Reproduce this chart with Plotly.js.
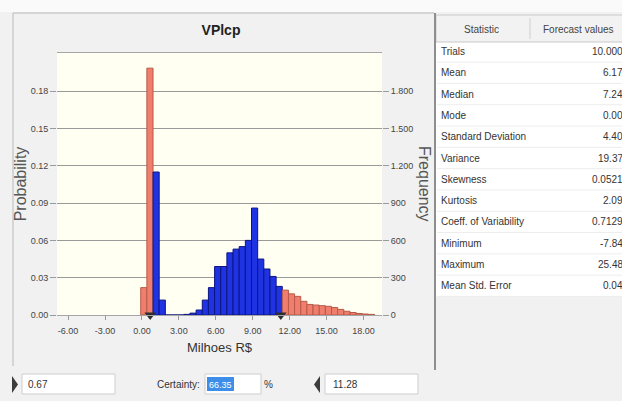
<!DOCTYPE html>
<html><head><meta charset="utf-8">
<script src="https://cdn.plot.ly/plotly-3.0.1.min.js"></script>
<style>html,body{margin:0;padding:0;background:#f1f1f1;}#chart{width:622px;height:401px;}</style>
</head><body><div id="chart"></div>
<script>
// ---- data ----
const binCenters = [0.15,0.65,1.15,1.65,2.15,2.65,3.15,3.65,4.15,4.65,5.15,5.65,6.15,6.65,7.15,7.65,8.15,8.65,9.15,9.65,10.15,10.65,11.15,11.65,12.15,12.65,13.15,13.65,14.15,14.65,15.15,15.65,16.15,16.65,17.15,17.65,18.15,18.65];
const binFreq    = [220,1985,1150,120,0,0,0,5,15,40,120,220,390,390,500,530,550,600,860,450,370,310,230,200,170,150,110,85,80,75,70,60,45,30,20,12,8,5];
const trials = 10000;
const certLow = 0.67, certHigh = 11.28;
const certaintyText = "66.35";
const xTickVals = [-6,-3,0,3,6,9,12,15,18];
const xTickText = ["-6.00","-3.00","0.00","3.00","6.00","9.00","12.00","15.00","18.00"];
const probTicks = [0,0.03,0.06,0.09,0.12,0.15,0.18];
const probText  = ["0.00","0.03","0.06","0.09","0.12","0.15","0.18"];
const freqTicks = [0,300,600,900,1200,1500,1800];
const freqText  = ["0","300","600","900","1.200","1.500","1.800"];
const statLabels = ["Trials","Mean","Median","Mode","Standard Deviation","Variance","Skewness","Kurtosis","Coeff. of Variability","Minimum","Maximum","Mean Std. Error"];
const statValues = ["10.000","6.17","7.24","0.00","4.40","19.37","0.0521","2.09","0.7129","-7.84","25.48","0.04"];

// ---- helpers ----
const W = 622, H = 401;
const px = x => x / W, py = y => 1 - y / H;
const NARROW = "'Liberation Sans Narrow','Arial Narrow','Liberation Sans',Arial,sans-serif";
const SANS = "'Liberation Sans',Arial,sans-serif";
const binWidth = 0.5;
const maxFreq = 2107;

const binProb = binFreq.map(f => f / trials);
const colors = binCenters.map(c => (c < certLow || c > certHigh) ? '#ef7f6c' : '#1f33e2');
const lineColors = binCenters.map(c => (c < certLow || c > certHigh) ? '#b8594a' : '#0c1680');

const traces = [
  {type:'bar', x:binCenters, y:binProb, yaxis:'y', width:binCenters.map(()=>binWidth),
   marker:{color:colors, line:{color:lineColors, width:1}}, hoverinfo:'skip'},
  {type:'scatter', mode:'markers', x:[certLow,certHigh], y:[0,0], yaxis:'y2', cliponaxis:false,
   marker:{symbol:'triangle-down', size:10, color:'#2e2e2e'}, hoverinfo:'skip'}
];

const shapes = [];
const annotations = [];
shapes.push({type:'rect', xref:'paper', yref:'paper', x0:0, x1:1, y0:py(12), y1:1, fillcolor:'#fafafa', line:{width:0}, layer:'below'});
shapes.push({type:'line', xref:'paper', yref:'paper', x0:px(13), x1:px(434), y0:py(13), y1:py(13), line:{color:'#b9b9b9', width:1}});
shapes.push({type:'line', xref:'paper', yref:'paper', x0:px(13), x1:px(13), y0:py(13), y1:py(366), line:{color:'#b9b9b9', width:1}});
shapes.push({type:'rect', xref:'paper', yref:'paper', x0:px(436), x1:1, y0:py(297), y1:py(15), fillcolor:'#ffffff', line:{width:0}, layer:'below'});
shapes.push({type:'rect', xref:'paper', yref:'paper', x0:px(436), x1:px(623), y0:py(42), y1:py(15), fillcolor:'#f2f2f2', line:{color:'#c9c9c9', width:1}});
shapes.push({type:'line', xref:'paper', yref:'paper', x0:px(530), x1:px(530), y0:py(39), y1:py(18), line:{color:'#cfcfcf', width:1}});
shapes.push({type:'line', xref:'paper', yref:'paper', x0:px(435), x1:px(435), y0:py(13), y1:py(370), line:{color:'#8e8e8e', width:2}});
const rowH = 21.3, row0 = 51.5;
for (let k = 1; k < statLabels.length + 1; k++) {
  const yy = row0 - rowH/2 + rowH*k;
  shapes.push({type:'line', xref:'paper', yref:'paper', x0:px(437), x1:1, y0:py(yy), y1:py(yy), line:{color:'#ededed', width:1}});
}
annotations.push({xref:'paper', yref:'paper', x:px(481), y:py(29), text:'Statistic', showarrow:false, xanchor:'center', yanchor:'middle', font:{family:NARROW, size:10, color:'#444'}});
annotations.push({xref:'paper', yref:'paper', x:px(578), y:py(29), text:'Forecast values', showarrow:false, xanchor:'center', yanchor:'middle', font:{family:NARROW, size:10, color:'#444'}});
statLabels.forEach((lab, k) => {
  annotations.push({xref:'paper', yref:'paper', x:px(439), y:py(row0 + rowH*k), text:lab, showarrow:false, xanchor:'left', yanchor:'middle', font:{family:NARROW, size:10, color:'#333'}});
  annotations.push({xref:'paper', yref:'paper', x:px(625), y:py(row0 + rowH*k), text:statValues[k], showarrow:false, xanchor:'right', yanchor:'middle', font:{family:NARROW, size:10, color:'#333'}});
});
annotations.push({xref:'paper', yref:'paper', x:px(425), y:py(184), text:'Frequency', textangle:90, showarrow:false, xanchor:'center', yanchor:'middle', font:{family:SANS, size:16, color:'#555'}});
// bottom controls
shapes.push({type:'path', xref:'paper', yref:'paper', path:`M ${px(12)},${py(376)} L ${px(18)},${py(384.5)} L ${px(12)},${py(393)} Z`, fillcolor:'#3c3c3c', line:{width:0}});
shapes.push({type:'rect', xref:'paper', yref:'paper', x0:px(22), x1:px(115), y0:py(394), y1:py(374), fillcolor:'#ffffff', line:{color:'#cdcdcd', width:1}});
annotations.push({xref:'paper', yref:'paper', x:px(26), y:py(384.5), text:String(certLow), showarrow:false, xanchor:'left', yanchor:'middle', font:{family:NARROW, size:10, color:'#333'}});
annotations.push({xref:'paper', yref:'paper', x:px(202), y:py(384.5), text:'Certainty:', showarrow:false, xanchor:'right', yanchor:'middle', font:{family:NARROW, size:10, color:'#333'}});
shapes.push({type:'rect', xref:'paper', yref:'paper', x0:px(205), x1:px(261), y0:py(394), y1:py(374), fillcolor:'#ffffff', line:{color:'#cdcdcd', width:1}});
shapes.push({type:'rect', xref:'paper', yref:'paper', x0:px(207), x1:px(234), y0:py(391), y1:py(377), fillcolor:'#3d8ee8', line:{width:0}});
annotations.push({xref:'paper', yref:'paper', x:px(220.5), y:py(384.5), text:certaintyText, showarrow:false, xanchor:'center', yanchor:'middle', font:{family:NARROW, size:9, color:'#ffffff'}});
annotations.push({xref:'paper', yref:'paper', x:px(268), y:py(384.5), text:'%', showarrow:false, xanchor:'center', yanchor:'middle', font:{family:NARROW, size:10, color:'#333'}});
shapes.push({type:'path', xref:'paper', yref:'paper', path:`M ${px(320)},${py(376)} L ${px(314)},${py(384.5)} L ${px(320)},${py(393)} Z`, fillcolor:'#3c3c3c', line:{width:0}});
shapes.push({type:'rect', xref:'paper', yref:'paper', x0:px(325), x1:px(418), y0:py(394), y1:py(374), fillcolor:'#ffffff', line:{color:'#cdcdcd', width:1}});
annotations.push({xref:'paper', yref:'paper', x:px(331), y:py(384.5), text:String(certHigh), showarrow:false, xanchor:'left', yanchor:'middle', font:{family:NARROW, size:10, color:'#333'}});

const layout = {
  width:W, height:H, margin:{l:0,r:0,t:0,b:0},
  paper_bgcolor:'#f1f1f1', plot_bgcolor:'#fffff2',
  showlegend:false, barmode:'overlay',
  font:{family:NARROW, size:9, color:'#444'},
  title:{text:'<b>VPlcp</b>', x:px(221), xanchor:'center', y:py(30), yanchor:'middle', font:{family:NARROW, size:14, color:'#222'}},
  xaxis:{domain:[px(57),px(382)], range:[-6.9,19.5], tickvals:xTickVals, ticktext:xTickText,
    ticks:'outside', ticklen:4, tickcolor:'#9a9a9a', showgrid:false, zeroline:false,
    showline:true, mirror:true, linecolor:'#a6a6a6', ticklabelstandoff:3,
    tickfont:{family:NARROW, size:9, color:'#444'},
    title:{text:'Milhoes R$', standoff:8, font:{family:NARROW, size:13, color:'#333'}}},
  yaxis:{domain:[py(315),py(53)], range:[0,maxFreq/trials], tickvals:probTicks, ticktext:probText,
    ticks:'outside', ticklen:6, tickcolor:'#9a9a9a', showgrid:true, gridcolor:'#9a9a9a', gridwidth:1,
    zeroline:false, showline:false, tickfont:{family:NARROW, size:9, color:'#444'},
    title:{text:'Probability', standoff:0, font:{family:SANS, size:16, color:'#555'}}},
  yaxis2:{overlaying:'y', side:'right', anchor:'x', range:[0,maxFreq], tickvals:freqTicks, ticktext:freqText,
    ticks:'outside', ticklen:6, tickcolor:'#9a9a9a', showgrid:false, zeroline:false, showline:false,
    tickfont:{family:NARROW, size:9, color:'#444'}},
  shapes:shapes, annotations:annotations
};
Plotly.newPlot('chart', traces, layout, {displayModeBar:false, staticPlot:true});
</script></body></html>
